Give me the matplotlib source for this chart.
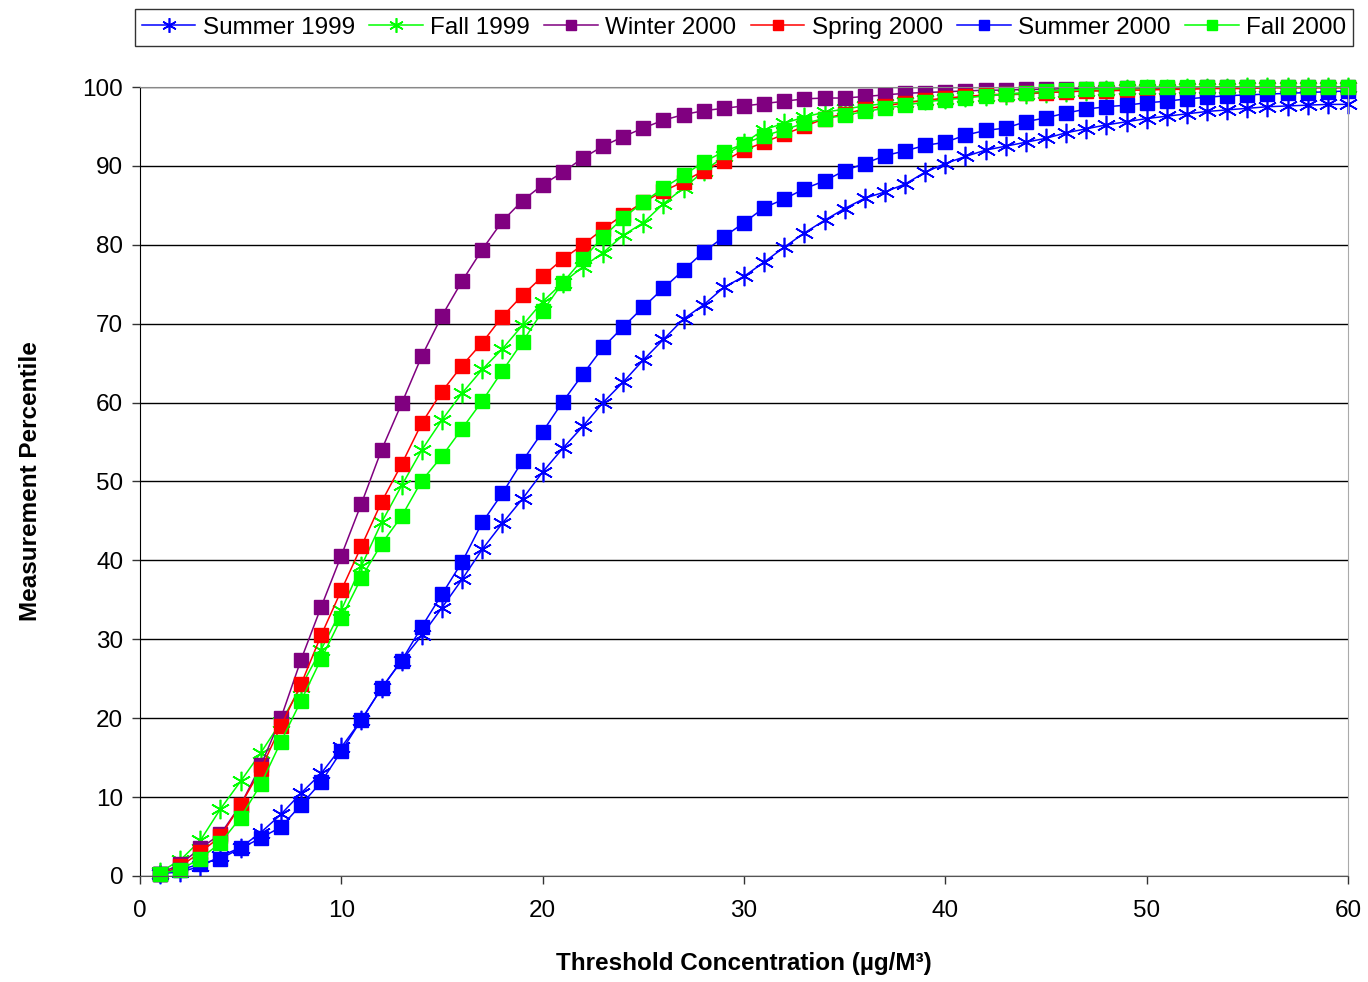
import matplotlib
matplotlib.use("Agg")
import matplotlib.pyplot as plt

plt.rcParams["font.family"] = ["Liberation Sans", "DejaVu Sans"]

# threshold concentration (ug/m3) 1..60
conc = list(range(1, 61))

summer_1999 = [0.3, 0.5, 1.2, 2.5, 3.6, 5.5, 7.8, 10.5, 13.0, 16.3,
               19.8, 23.8, 27.3, 30.5, 34.0, 37.6, 41.4, 44.7, 47.8, 51.2,
               54.2, 57.0, 60.0, 62.6, 65.4, 68.0, 70.6, 72.4, 74.6, 76.0,
               77.8, 79.7, 81.5, 83.1, 84.6, 85.9, 86.7, 87.7, 89.2, 90.3,
               91.2, 92.0, 92.5, 93.0, 93.5, 94.2, 94.7, 95.2, 95.6, 96.0,
               96.3, 96.6, 96.9, 97.1, 97.3, 97.5, 97.6, 97.7, 97.8, 97.8]
fall_1999 = [0.5, 2.0, 4.5, 8.5, 12.0, 15.6, 19.5, 24.0, 28.7, 33.7,
             39.3, 44.8, 49.5, 54.0, 57.8, 61.2, 64.2, 66.8, 69.8, 72.8,
             75.2, 77.2, 79.0, 81.2, 82.8, 85.2, 87.2, 89.3, 91.2, 92.9,
             94.6, 95.4, 96.2, 96.8, 97.2, 97.6, 97.9, 98.1, 98.3, 98.5,
             98.7, 98.9, 99.0, 99.1, 99.3, 99.4, 99.5, 99.6, 99.7, 99.8,
             99.8, 99.9, 99.9, 99.9, 100, 100, 100, 100, 100, 100]
winter_2000 = [0.3, 1.5, 3.5, 5.3, 9.0, 14.0, 20.0, 27.4, 34.1, 40.6,
               47.2, 54.0, 59.9, 65.9, 71.0, 75.4, 79.4, 83.0, 85.6, 87.6,
               89.2, 91.0, 92.5, 93.7, 94.8, 95.8, 96.5, 97.0, 97.3, 97.6,
               97.9, 98.2, 98.5, 98.6, 98.6, 98.8, 99.0, 99.2, 99.3, 99.4,
               99.5, 99.6, 99.6, 99.7, 99.7, 99.8, 99.8, 99.8, 99.9, 99.9,
               99.9, 99.9, 100, 100, 100, 100, 100, 100, 100, 100]
spring_2000 = [0.2, 1.2, 3.0, 5.0, 9.0, 13.5, 19.0, 24.3, 30.5, 36.2,
               41.8, 47.4, 52.2, 57.4, 61.4, 64.7, 67.6, 70.9, 73.6, 76.0,
               78.2, 80.0, 82.0, 83.8, 85.4, 86.8, 88.0, 89.4, 90.6, 92.0,
               93.0, 94.0, 95.0, 96.0, 96.6, 97.2, 97.6, 98.0, 98.3, 98.6,
               98.8, 99.0, 99.1, 99.2, 99.3, 99.4, 99.5, 99.5, 99.6, 99.6,
               99.7, 99.7, 99.8, 99.8, 99.8, 99.9, 99.9, 99.9, 99.9, 99.9]
summer_2000 = [0.3, 0.8, 1.5, 2.2, 3.5, 4.8, 6.2, 9.0, 11.9, 15.8,
               19.8, 23.8, 27.3, 31.6, 35.7, 39.8, 44.8, 48.5, 52.6, 56.3,
               60.1, 63.6, 67.0, 69.6, 72.1, 74.5, 76.8, 79.1, 81.0, 82.8,
               84.7, 85.8, 87.1, 88.1, 89.4, 90.3, 91.3, 91.9, 92.6, 93.0,
               93.9, 94.5, 94.8, 95.6, 96.1, 96.7, 97.2, 97.5, 97.7, 98.0,
               98.2, 98.5, 98.7, 98.9, 99.0, 99.1, 99.2, 99.3, 99.4, 99.5]
fall_2000 = [0.3, 0.8, 2.2, 4.2, 7.4, 11.6, 17.0, 22.2, 27.5, 32.7,
             37.8, 42.1, 45.6, 50.1, 53.2, 56.7, 60.2, 64.0, 67.7, 71.6,
             75.2, 78.2, 81.0, 83.4, 85.4, 87.2, 88.8, 90.5, 91.8, 92.8,
             93.8, 94.6, 95.4, 96.0, 96.4, 96.9, 97.3, 97.7, 98.1, 98.4,
             98.6, 98.9, 99.1, 99.3, 99.5, 99.6, 99.7, 99.8, 99.9, 100,
             100, 100, 100, 100, 100, 100, 100, 100, 100, 100]

ASTER = (6, 2, 0)
series = [
    ("Summer 1999", summer_1999, "#0000FF", ASTER),
    ("Fall 1999", fall_1999, "#00FF00", ASTER),
    ("Winter 2000", winter_2000, "#800080", "s"),
    ("Spring 2000", spring_2000, "#FF0000", "s"),
    ("Summer 2000", summer_2000, "#0000FF", "s"),
    ("Fall 2000", fall_2000, "#00FF00", "s"),
]

fig = plt.figure(figsize=(13.68, 9.82), dpi=100)
ax = fig.add_axes([0.1023, 0.108, 0.8831, 0.8034])

for name, vals, col, mk in series:
    if mk == "s":
        ax.plot(conc, vals, color=col, lw=1.1, marker="s", markersize=10,
                mfc=col, mec=col, label=name, clip_on=False)
    else:
        ax.plot(conc, vals, color=col, lw=1.1, marker=mk, markersize=14,
                mew=1.2, mec=col, label=name, clip_on=False)

ax.set_xlim(0, 60)
ax.set_ylim(0, 100)
ax.set_xticks(range(0, 61, 10))
ax.set_yticks(range(0, 101, 10))
ax.yaxis.grid(True, color="black", lw=1.0)
ax.set_axisbelow(True)
ax.tick_params(labelsize=17.5, length=6, width=1, direction="out", colors="#333333",
               labelcolor="black")
ax.tick_params(axis="x", pad=11)
ax.tick_params(axis="y", pad=6)
ax.spines["left"].set_color("black")
ax.spines["bottom"].set_color("#555555")
ax.spines["right"].set_color("#aaaaaa")
ax.spines["top"].set_color("#888888")

ax.set_xlabel("Threshold Concentration (\u00b5g/M\u00b3)", fontsize=17.5,
              fontweight="bold", labelpad=22)
ax.set_ylabel("Measurement Percentile", fontsize=17.5, fontweight="bold", labelpad=29)

leg = ax.legend(loc="lower center", bbox_to_anchor=(0.5, 1.052), ncol=6,
                fontsize=17.5, frameon=True, fancybox=False, handlelength=2.2,
                handletextpad=0.3, columnspacing=0.6, borderpad=0.3,
                borderaxespad=0.0, markerscale=0.75)
leg.get_frame().set_edgecolor("black")
leg.get_frame().set_linewidth(1.0)

fig.savefig("out.png", dpi=100)
